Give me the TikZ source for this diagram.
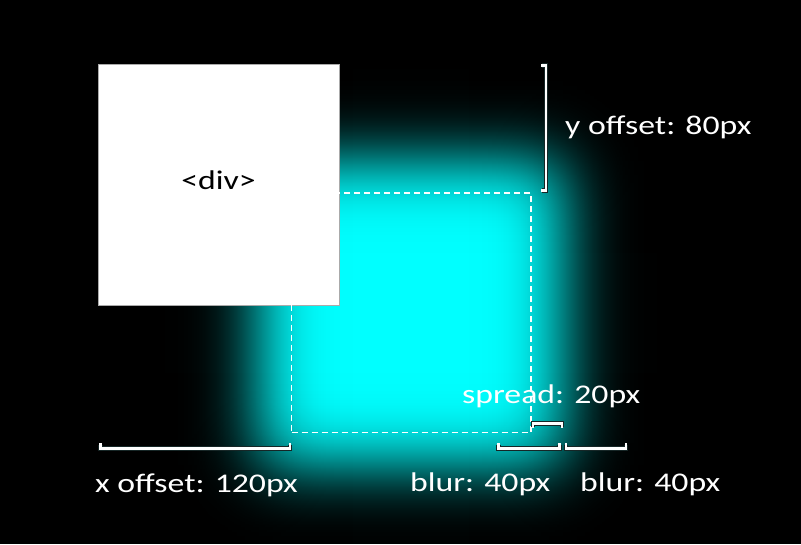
\documentclass[tikz,border=0pt]{standalone}
\usepackage{fontspec}
\setmainfont{Carlito}[FakeStretch=1.25]
\definecolor{glow}{RGB}{0,255,255}
\definecolor{olc}{RGB}{22,38,38}
\definecolor{divborder}{RGB}{170,170,170}
\begin{document}
\begin{tikzpicture}[x=1pt,y=-1pt,
  lbl/.style={text=white, inner sep=0pt, anchor=base west, font=\fontsize{27}{30}\selectfont},
  brk/.style={draw=white, line width=2.4pt, line cap=rect, line join=miter, preaction={draw=olc, line width=4.4pt}},
  dashbox/.style={draw=white, dash pattern=on 6pt off 4pt, line width=1.2pt, inner sep=0pt, minimum width=239.5pt, minimum height=239.5pt},
  divbox/.style={draw=divborder, fill=white, line width=0.8pt, inner sep=0pt, minimum width=240.5pt, minimum height=240.5pt}]
\fill[black] (0,0) rectangle (801,544);
\useasboundingbox (0,0) rectangle (801,544);
\begin{scope}
\clip (0,0) rectangle (801,544);
% blurred box-shadow: cyan * F(x) * G(y)
\foreach \i in {0,...,191}{
  \pgfmathsetmacro\xx{163+\i}
  \pgfmathsetmacro\z{(\xx+0.5-259)/32}
  \pgfmathsetmacro\F{1/(1+exp(-(1.5976*\z+0.07056*\z*\z*\z)))}
  \definecolor{stripc}{rgb}{0,\F,\F}
  \fill[stripc] (\xx,65) rectangle (\xx+2,544);
}
\fill[glow] (355,65) rectangle (468,544);
\foreach \i in {0,...,191}{
  \pgfmathsetmacro\xx{467+\i}
  \pgfmathsetmacro\z{(563-\xx-0.5)/32}
  \pgfmathsetmacro\F{1/(1+exp(-(1.5976*\z+0.07056*\z*\z*\z)))}
  \definecolor{stripc}{rgb}{0,\F,\F}
  \fill[stripc] (\xx,65) rectangle (\xx+1,544);
}
\foreach \i in {0,...,191}{
  \pgfmathsetmacro\yy{65+\i}
  \pgfmathsetmacro\z{(\yy+0.5-161)/32}
  \pgfmathsetmacro\A{1-1/(1+exp(-(1.5976*\z+0.07056*\z*\z*\z)))}
  \fill[black, fill opacity=\A] (163,\yy) rectangle (658,\yy+1);
}
\foreach \i in {0,...,174}{
  \pgfmathsetmacro\yy{369+\i}
  \pgfmathsetmacro\z{(465-\yy-0.5)/32}
  \pgfmathsetmacro\A{1-1/(1+exp(-(1.5976*\z+0.07056*\z*\z*\z)))}
  \fill[black, fill opacity=\A] (163,\yy) rectangle (658,\yy+1);
}
\end{scope}
% div
\node[divbox] (div) at (218.75,184.75) {};
\node[anchor=base, inner sep=0pt, text=black, font=\fontsize{27}{30}\selectfont] (divtext) at (218.5,189) {<div>};
% shadow outline
\node[dashbox] (shadow) at (411.25,312.75) {};
% brackets
\coordinate (xa) at (100.5,444.5); \coordinate (xb) at (100.5,448.5);
\coordinate (xc) at (290,448.5);   \coordinate (xd) at (290,444.5);
\draw[brk] (xa) -- (xb) -- (xc) -- (xd);
\coordinate (ba) at (498.5,444.5); \coordinate (bb) at (498.5,448.5);
\coordinate (bc) at (559.5,448.5); \coordinate (bd) at (559.5,444.5);
\draw[brk] (ba) -- (bb) -- (bc) -- (bd);
\coordinate (ca) at (566,444.5); \coordinate (cb) at (566,448.5);
\coordinate (cc) at (626,448.5); \coordinate (cd) at (626,444.5);
\draw[brk] (ca) -- (cb) -- (cc) -- (cd);
\coordinate (sa) at (533,427); \coordinate (sb) at (533,423.5);
\coordinate (sc) at (562,423.5); \coordinate (sd) at (562,427);
\draw[brk] (sa) -- (sb) -- (sc) -- (sd);
\coordinate (ya) at (542,65.5); \coordinate (yb) at (546,65.5);
\coordinate (yc) at (546,190.5); \coordinate (yd) at (542,190.5);
\draw[brk] (ya) -- (yb) -- (yc) -- (yd);
% labels
\node[lbl] (ylabel) at (565,134.5) {y offset: 80px};
\node[lbl] (xlabel) at (95,492) {x offset: 120px};
\node[lbl] (blur1) at (410,491) {blur: 40px};
\node[lbl] (blur2) at (580,491) {blur: 40px};
\node[lbl] (spread) at (462,403) {spread: 20px};
\end{tikzpicture}
\end{document}
